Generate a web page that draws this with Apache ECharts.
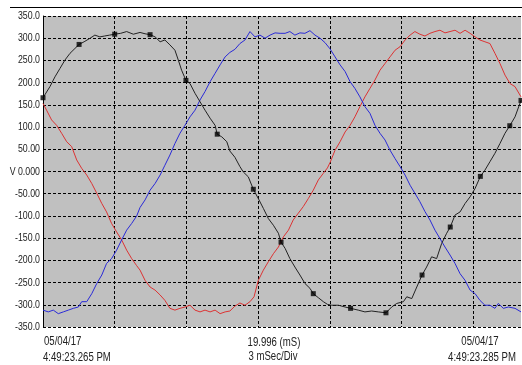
<!DOCTYPE html>
<html>
<head>
<meta charset="utf-8">
<script src="https://cdn.jsdelivr.net/npm/echarts@6/dist/echarts.min.js"></script>
<style>
html,body{margin:0;padding:0;background:#fff;}
#c{width:522px;height:365px;}
</style>
</head>
<body>
<div id="c"></div>
<script>
const FONT = '"Liberation Sans", Arial, sans-serif';
const NARROW = 0.8;

const yTicks = [350,300,250,200,150,100,50,0,-50,-100,-150,-200,-250,-300,-350];
const yTickLabels = ['350.0','300.0','250.0','200.0','150.0','100.0','50.00','V 0.000','-50.00','-100.0','-150.0','-200.0','-250.0','-300.0','-350.0'];

const footLeft = ['05/04/17', '4:49:23.265 PM'];
const footCenter = ['19.996 (mS)', '3 mSec/Div'];
const footRight = ['05/04/17', '4:49:23.285 PM'];

const blackT = [0,0.29,0.50,0.71,0.92,1.13,1.30,1.51,1.72,1.97,2.17,2.38,2.58,2.79,3.0,3.25,3.50,3.78,4.06,4.27,4.48,4.69,4.90,5.10,5.31,5.52,5.66,5.80,5.98,6.15,6.36,6.57,6.78,6.99,7.20,7.29,7.48,7.69,7.82,8.03,8.24,8.38,8.59,8.80,9.01,9.22,9.43,9.64,9.85,9.96,10.13,10.33,10.54,10.75,10.96,11.17,11.31,11.52,11.73,11.9,12.08,12.36,12.64,12.87,13.19,13.47,13.75,14.03,14.35,14.59,14.80,15.08,15.22,15.43,15.64,15.86,16.05,16.26,16.47,16.68,16.89,17.04,17.24,17.45,17.66,17.87,18.08,18.30,18.49,18.70,18.91,19.12,19.33,19.53,19.75,20.0];
const blackV = [166,191,213,232,251,266,275,286,292,300,307,303,305,307,309,311,315,309,313,310,308,303,292,296,285,273,251,228,205,198,176,157,138,120,104,84,78,67,46,32,11,-1,-12,-40,-61,-83,-106,-121,-139,-159,-173,-196,-215,-233,-252,-263,-275,-284,-293,-299,-301,-301,-305,-308,-312,-316,-314,-316,-318,-305,-297,-293,-282,-286,-260,-233,-215,-192,-196,-162,-139,-125,-98,-91,-72,-57,-38,-11,3,22,41,63,86,103,123,160];

const redT = [0,0.15,0.36,0.57,0.78,0.99,1.20,1.41,1.62,1.83,2.04,2.25,2.46,2.66,2.87,3.08,3.29,3.50,3.71,3.92,4.06,4.27,4.48,4.69,4.90,5.10,5.31,5.52,5.73,5.94,6.15,6.36,6.57,6.78,6.99,7.20,7.41,7.62,7.82,8.03,8.24,8.45,8.66,8.83,9.01,9.22,9.43,9.64,9.85,10.06,10.27,10.47,10.68,10.89,11.10,11.31,11.52,11.73,11.9,12.01,12.22,12.43,12.64,12.85,13.05,13.26,13.47,13.68,13.89,14.10,14.31,14.52,14.73,14.94,15.15,15.36,15.56,15.77,15.98,16.19,16.40,16.61,16.82,17.03,17.24,17.45,17.66,17.87,18.08,18.28,18.49,18.70,18.91,19.12,19.33,19.54,19.75,20.0];
const redV = [153,138,116,104,86,67,56,26,7,-8,-27,-49,-72,-91,-117,-136,-154,-177,-196,-212,-222,-245,-260,-267,-278,-290,-308,-312,-308,-305,-301,-312,-316,-312,-316,-312,-320,-316,-314,-303,-296,-301,-293,-282,-245,-222,-203,-185,-170,-147,-132,-109,-94,-79,-61,-42,-19,-4,8,20,48,67,89,104,123,146,168,187,206,228,243,258,273,281,296,307,315,309,305,311,315,318,312,315,318,311,318,311,303,296,292,288,266,243,217,198,191,168];

const blueT = [0,0.22,0.43,0.64,0.85,1.06,1.27,1.48,1.62,1.83,2.04,2.25,2.46,2.66,2.87,3.08,3.29,3.50,3.71,3.92,4.06,4.27,4.48,4.69,4.90,5.10,5.31,5.52,5.73,5.94,6.15,6.36,6.57,6.78,6.99,7.20,7.41,7.62,7.82,8.03,8.24,8.45,8.66,8.87,9.08,9.29,9.50,9.71,9.92,10.13,10.33,10.54,10.75,10.96,11.17,11.38,11.59,11.80,12.01,12.22,12.43,12.64,12.85,13.05,13.26,13.47,13.68,13.89,14.10,14.31,14.52,14.73,14.94,15.15,15.36,15.56,15.77,15.98,16.19,16.40,16.61,16.82,17.03,17.24,17.45,17.66,17.87,18.08,18.28,18.49,18.70,18.91,19.05,19.26,19.47,19.75,20.0];
const blueV = [-312,-316,-312,-320,-316,-312,-308,-305,-293,-293,-275,-252,-233,-207,-196,-177,-154,-132,-117,-100,-81,-64,-42,-27,-8,14,37,63,86,104,123,138,161,180,202,221,240,258,268,275,288,296,315,303,307,300,307,312,311,311,315,307,312,311,317,307,300,290,276,258,240,225,202,187,168,146,131,104,86,71,48,29,11,-8,-31,-49,-68,-90,-109,-132,-151,-170,-188,-207,-230,-245,-267,-275,-290,-301,-301,-308,-297,-308,-305,-308,-316];

const markerT = [0,1.51,3.0,4.48,5.98,7.29,8.80,9.96,11.31,12.87,14.35,15.86,17.04,18.30,19.53,20.0];
const markerV = [166,286,309,308,205,84,-40,-159,-275,-308,-318,-233,-125,-11,103,160];

const zip = (a, b) => a.map((t, i) => [t, b[i]]);

const chart = echarts.init(document.getElementById('c'), null, {renderer: 'canvas'});
const dash = {color: '#000', width: 1, type: [3, 2]};
chart.setOption({
  animation: false,
  backgroundColor: '#fff',
  grid: {left: 43, right: 1, top: 16, bottom: 38, show: true, backgroundColor: '#c0c0c0', borderWidth: 0},
  xAxis: {
    type: 'value', min: 0, max: 20, interval: 3,
    axisLine: {show: false}, axisTick: {show: false}, axisLabel: {show: false},
    splitLine: {show: true, lineStyle: dash, showMinLine: false, showMaxLine: false}
  },
  yAxis: {
    type: 'value', min: -350, max: 350, interval: 50,
    axisLine: {show: true, onZero: false, lineStyle: {color: '#000', width: 1}},
    axisTick: {show: false},
    axisLabel: {show: false},
    splitLine: {show: true, lineStyle: dash}
  },
  series: [
    {type: 'line', data: zip(redT, redV), showSymbol: false, lineStyle: {color: '#dd3333', width: 1}, z: 3},
    {type: 'line', data: zip(blueT, blueV), showSymbol: false, lineStyle: {color: '#2a2ad8', width: 1}, z: 3},
    {type: 'line', data: zip(blackT, blackV), showSymbol: false, lineStyle: {color: '#222', width: 1}, z: 4},
    {type: 'scatter', data: zip(markerT, markerV), symbol: 'rect', symbolSize: 5, itemStyle: {color: '#000'}, z: 5}
  ]
});

function txt(str, x, y, align, size) {
  return {
    type: 'text', x: x, y: y, scaleX: NARROW, z: 10,
    style: {text: str, x: 0, y: 0, font: size + 'px ' + FONT, fill: '#222', align: align, verticalAlign: 'middle'}
  };
}
const g = [
  {type: 'line', z: 10, shape: {x1: 10, y1: 7.5, x2: 522, y2: 7.5}, style: {stroke: '#000', lineWidth: 1}}
];
yTicks.forEach((v, i) => {
  const py = chart.convertToPixel({yAxisIndex: 0}, v);
  g.push(txt(yTickLabels[i], 40, py, 'right', 11));
});
g.push(txt(footLeft[0], 44, 342, 'left', 12));
g.push(txt(footLeft[1], 43, 358, 'left', 12));
g.push(txt(footCenter[0], 274, 343, 'center', 12));
g.push(txt(footCenter[1], 273, 357, 'center', 12));
g.push(txt(footRight[0], 480, 342, 'center', 12));
g.push(txt(footRight[1], 482, 358, 'center', 12));
chart.setOption({graphic: g});
</script>
</body>
</html>
